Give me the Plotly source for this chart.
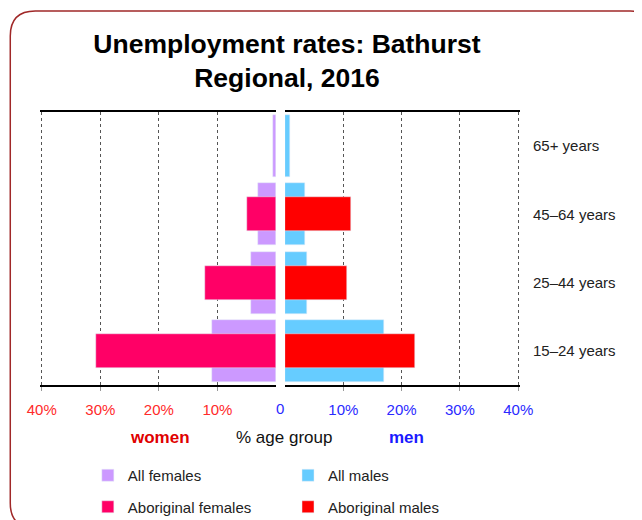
import plotly.graph_objects as go
from plotly.subplots import make_subplots

# values (percent unemployed, by age group)
age_groups = ["15–24 years", "25–44 years", "45–64 years", "65+ years"]
all_females = [11.0, 4.3, 3.0, 0.5]
aboriginal_females = [30.8, 12.2, 4.9, None]
all_males = [16.9, 3.7, 3.5, 0.9]
aboriginal_males = [22.3, 10.7, 11.4, None]
pct_ticks = [10, 20, 30, 40]
pct_labels = ["10%", "20%", "30%", "40%"]

# the page adds an 8px body margin, so the figure is drawn 8px in from the window edge
OFF = 8
W, H = 642 - OFF, 520 - OFF
# ranges run a hair past 40% so the outer dotted gridlines are kept
XMAX = 40.3
ML, MR, MT, MB = 40.2 - OFF, W - (519.8 - OFF), 112 - OFF, 135
PW, PH = W - ML - MR, H - MT - MB
FONT = "Liberation Sans, Arial, sans-serif"


# window pixel -> paper / container fractions
def px(x):
    return (x - OFF - ML) / PW


def py(y):
    return 1 - (y - OFF - MT) / PH


def cx(x):
    return (x - OFF) / W


def cy(y):
    return 1 - (y - OFF) / H


fig = make_subplots(rows=1, cols=2)

fig.add_trace(go.Bar(y=age_groups, x=all_females, orientation="h", width=0.91,
                     marker_color="#cc99ff", name="All females",
                     legend="legend", legendgroup="af"), row=1, col=1)
fig.add_trace(go.Bar(y=age_groups, x=aboriginal_females, orientation="h", width=0.5,
                     marker_color="#ff0066", name="Aboriginal females",
                     legend="legend", legendgroup="abf"), row=1, col=1)
fig.add_trace(go.Bar(y=age_groups, x=all_males, orientation="h", width=0.91,
                     marker_color="#66ccff", name="All males",
                     legend="legend2", legendgroup="am"), row=1, col=2)
fig.add_trace(go.Bar(y=age_groups, x=aboriginal_males, orientation="h", width=0.5,
                     marker_color="#ff0000", name="Aboriginal males",
                     legend="legend2", legendgroup="abm"), row=1, col=2)

xcommon = dict(tickvals=pct_ticks, ticktext=pct_labels, showgrid=True,
               gridcolor="#555", griddash="dot", gridwidth=1, zeroline=False,
               showline=True, linecolor="black", linewidth=1.5, mirror=True,
               ticks="outside", ticklen=4, tickcolor="#999",
               ticklabelstandoff=6, fixedrange=True)
fig.update_xaxes(range=[XMAX, 0], domain=[0, px(276)],
                 tickfont=dict(family=FONT, size=15, color="#ff2a2a"),
                 row=1, col=1, **xcommon)
fig.update_xaxes(range=[0, XMAX], domain=[px(285), 1],
                 tickfont=dict(family=FONT, size=15, color="#2a2aff"),
                 row=1, col=2, **xcommon)
fig.update_yaxes(showticklabels=False, showgrid=False, zeroline=False, row=1, col=1)
fig.update_yaxes(side="right", showgrid=False, zeroline=False, ticks="",
                 ticklabelstandoff=12,
                 tickfont=dict(family=FONT, size=15, color="#222"), row=1, col=2)

# rounded frame around the whole chart
L, T, R, B, rad = 10.5, 11, 655, 528, 25
frame = (f"M {px(L)},{py(T + rad)} Q {px(L)},{py(T)} {px(L + rad)},{py(T)} "
         f"L {px(R - rad)},{py(T)} Q {px(R)},{py(T)} {px(R)},{py(T + rad)} "
         f"L {px(R)},{py(B - rad)} Q {px(R)},{py(B)} {px(R - rad)},{py(B)} "
         f"L {px(L + rad)},{py(B)} Q {px(L)},{py(B)} {px(L)},{py(B - rad)} Z")
fig.add_shape(type="path", path=frame, xref="paper", yref="paper",
              line=dict(color="#a02828", width=1.5), layer="below")

notes = [
    ("0", 280, 408, "#2a2aff", 15, False),
    ("women", 160, 437, "#e00000", 17, True),
    ("% age group", 284, 437, "#111", 17, False),
    ("men", 406, 437, "#1a1aff", 17, True),
]
for txt, x, y, col, size, bold in notes:
    fig.add_annotation(text=f"<b>{txt}</b>" if bold else txt, x=px(x), y=py(y),
                       xref="paper", yref="paper", showarrow=False,
                       xanchor="center", yanchor="middle",
                       font=dict(family=FONT, size=size, color=col))

legend_style = dict(orientation="v", yref="container", y=cy(459), yanchor="top",
                    xanchor="left", traceorder="grouped", tracegroupgap=9,
                    font=dict(family=FONT, size=15, color="#222"),
                    bgcolor="rgba(0,0,0,0)")

fig.update_layout(
    width=W, height=H,
    margin=dict(l=ML, r=MR, t=MT, b=MB, autoexpand=False),
    paper_bgcolor="white", plot_bgcolor="white",
    barmode="overlay", bargap=0,
    title=dict(text="<b>Unemployment rates: Bathurst<br>Regional, 2016</b>",
               x=cx(287), xanchor="center", xref="container",
               y=cy(53), yanchor="top", yref="container",
               font=dict(family=FONT, size=26.5, color="black")),
    legend=dict(x=px(88), **legend_style),
    legend2=dict(x=px(288), **legend_style),
    showlegend=True,
)

fig.write_html("out.html")
